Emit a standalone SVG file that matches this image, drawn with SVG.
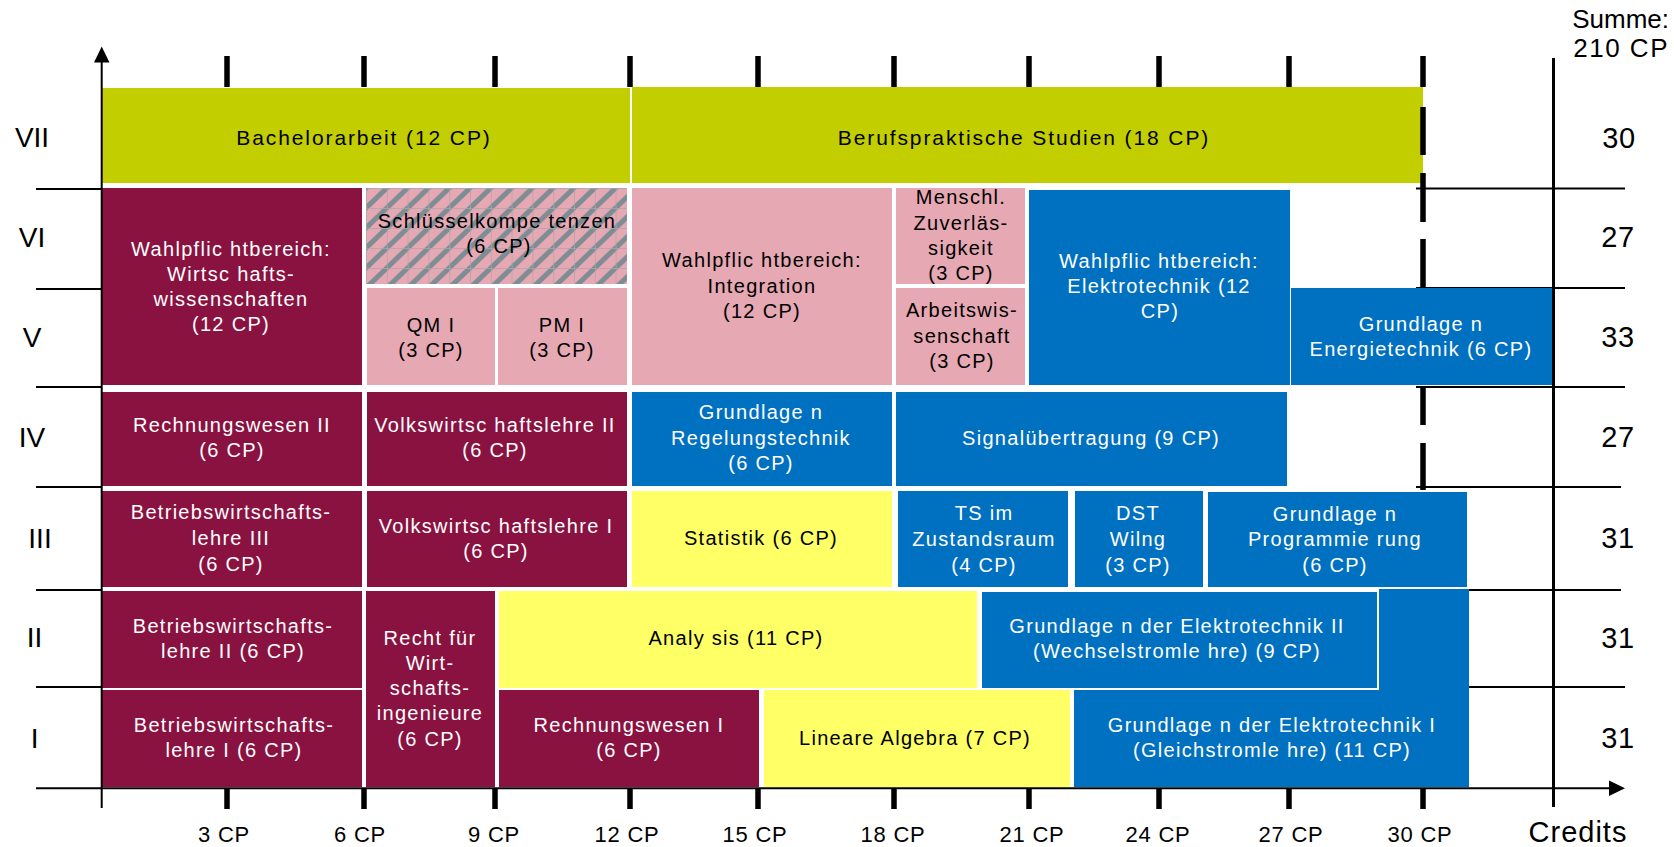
<svg xmlns="http://www.w3.org/2000/svg" width="1674" height="847" viewBox="0 0 1674 847">
<style>
text { font-family: "Liberation Sans", Arial, sans-serif; }
.t { font-size: 20px; letter-spacing: 1.3px; text-anchor: middle; }
.big { font-size: 21px; letter-spacing: 1.9px; }
.w { fill: #ffffff; }
.k { fill: #000000; }
.olive { fill: #C3CE00; }
.maroon { fill: #8A1240; }
.pink { fill: #E6A8B3; }
.blue { fill: #0070C0; }
.yellow { fill: #FFFF66; }
.num { font-size: 28px; text-anchor: middle; fill: #000; }
.sum { font-size: 29px; text-anchor: middle; fill: #000; letter-spacing: 0.5px; }
.cp { font-size: 22px; text-anchor: middle; fill: #000; letter-spacing: 0.8px; }
.line { stroke: #000; stroke-width: 2; fill: none; }
.tick { stroke: #000; stroke-width: 5.5; fill: none; }
</style>
<defs>
<pattern id="hatch" patternUnits="userSpaceOnUse" x="366" y="188" width="20.8" height="20">
<rect width="20.8" height="20" fill="#E6A8B3"/>
<path d="M0,20 L20.8,0 M-3,3 L3,-3 M17.8,23 L23.8,17" stroke="#7E8C94" stroke-width="5"/>
<path d="M0,0 V20 M0,0 H20.8" stroke="#A8A8AB" stroke-width="1.4"/>
</pattern>
</defs>
<rect width="1674" height="847" fill="#ffffff"/>

<g id="gridlines">
<path class="line" d="M36,189 H102 M36,289 H102 M36,387 H102 M36,487 H102 M36,590 H102 M36,687 H102"/>
<path class="line" d="M1416,188.5 H1625 M1416,288 H1625 M1416,387 H1625 M1416,487 H1621 M1469,590 H1621 M1469,687 H1625"/>
</g>

<g id="node-bachelor">
<rect class="olive" x="102" y="88" width="528" height="95"/>
<text class="t big k" x="364" y="145">Bachelorarbeit (12 CP)</text>
</g>
<g id="node-beruf">
<rect class="olive" x="632" y="87" width="791" height="96"/>
<text class="t big k" x="1024" y="145">Berufspraktische Studien (18 CP)</text>
</g>

<g id="node-wpf-wiwi">
<rect class="maroon" x="102" y="188" width="260" height="197"/>
<text class="t w" x="231" y="256">Wahlpflic htbereich:</text>
<text class="t w" x="231" y="281">Wirtsc hafts-</text>
<text class="t w" x="231" y="306">wissenschaften</text>
<text class="t w" x="231" y="331">(12 CP)</text>
</g>
<g id="node-schluessel">
<rect x="366" y="188" width="261" height="96" fill="url(#hatch)"/>
<text class="t k" x="497" y="228">Schlüsselkompe tenzen</text>
<text class="t k" x="499" y="253">(6 CP)</text>
</g>
<g id="node-qm">
<rect class="pink" x="367" y="288" width="128" height="97"/>
<text class="t k" x="431" y="332">QM I</text>
<text class="t k" x="431" y="357">(3 CP)</text>
</g>
<g id="node-pm">
<rect class="pink" x="498" y="288" width="129" height="97"/>
<text class="t k" x="562" y="332">PM I</text>
<text class="t k" x="562" y="357">(3 CP)</text>
</g>
<g id="node-wpf-int">
<rect class="pink" x="632" y="188" width="260" height="197"/>
<text class="t k" x="762" y="267">Wahlpflic htbereich:</text>
<text class="t k" x="762" y="293">Integration</text>
<text class="t k" x="762" y="318">(12 CP)</text>
</g>
<g id="node-menschl">
<rect class="pink" x="896" y="188" width="129" height="96"/>
<text class="t k" x="961" y="204">Menschl.</text>
<text class="t k" x="961" y="230">Zuverläs-</text>
<text class="t k" x="961" y="255">sigkeit</text>
<text class="t k" x="961" y="280">(3 CP)</text>
</g>
<g id="node-arbeit">
<rect class="pink" x="896" y="288" width="129" height="97"/>
<text class="t k" x="962" y="317">Arbeitswis-</text>
<text class="t k" x="962" y="343">senschaft</text>
<text class="t k" x="962" y="368">(3 CP)</text>
</g>
<g id="node-wpf-et">
<rect class="blue" x="1029" y="190" width="261" height="195"/>
<text class="t w" x="1159" y="268">Wahlpflic htbereich:</text>
<text class="t w" x="1159" y="293">Elektrotechnik (12</text>
<text class="t w" x="1160" y="318">CP)</text>
</g>
<g id="node-energie">
<rect class="blue" x="1291" y="288" width="261" height="97"/>
<text class="t w" x="1421" y="331">Grundlage n</text>
<text class="t w" x="1421" y="356">Energietechnik (6 CP)</text>
</g>

<g id="node-rw2">
<rect class="maroon" x="102" y="392" width="260" height="94"/>
<text class="t w" x="232" y="432">Rechnungswesen II</text>
<text class="t w" x="232" y="457">(6 CP)</text>
</g>
<g id="node-vwl2">
<rect class="maroon" x="367" y="392" width="260" height="94"/>
<text class="t w" x="495" y="432">Volkswirtsc haftslehre II</text>
<text class="t w" x="495" y="457">(6 CP)</text>
</g>
<g id="node-regel">
<rect class="blue" x="632" y="392" width="260" height="94"/>
<text class="t w" x="761" y="419">Grundlage n</text>
<text class="t w" x="761" y="445">Regelungstechnik</text>
<text class="t w" x="761" y="470">(6 CP)</text>
</g>
<g id="node-signal">
<rect class="blue" x="896" y="392" width="391" height="94"/>
<text class="t w" x="1091" y="445">Signalübertragung (9 CP)</text>
</g>

<g id="node-bwl3">
<rect class="maroon" x="102" y="491" width="260" height="96"/>
<text class="t w" x="231" y="519">Betriebswirtschafts-</text>
<text class="t w" x="231" y="545">lehre III</text>
<text class="t w" x="231" y="571">(6 CP)</text>
</g>
<g id="node-vwl1">
<rect class="maroon" x="367" y="491" width="260" height="96"/>
<text class="t w" x="496" y="533">Volkswirtsc haftslehre I</text>
<text class="t w" x="496" y="558">(6 CP)</text>
</g>
<g id="node-statistik">
<rect class="yellow" x="632" y="491" width="260" height="96"/>
<text class="t k" x="761" y="545">Statistik (6 CP)</text>
</g>
<g id="node-ts">
<rect class="blue" x="898" y="491" width="170" height="96"/>
<text class="t w" x="984" y="520">TS im</text>
<text class="t w" x="984" y="546">Zustandsraum</text>
<text class="t w" x="984" y="572">(4 CP)</text>
</g>
<g id="node-dst">
<rect class="blue" x="1075" y="491" width="128" height="96"/>
<text class="t w" x="1138" y="520">DST</text>
<text class="t w" x="1138" y="546">Wilng</text>
<text class="t w" x="1138" y="572">(3 CP)</text>
</g>
<g id="node-prog">
<rect class="blue" x="1208" y="492" width="259" height="95"/>
<text class="t w" x="1335" y="521">Grundlage n</text>
<text class="t w" x="1335" y="546">Programmie rung</text>
<text class="t w" x="1335" y="572">(6 CP)</text>
</g>

<g id="node-bwl2">
<rect class="maroon" x="102" y="591" width="260" height="97"/>
<text class="t w" x="233" y="633">Betriebswirtschafts-</text>
<text class="t w" x="233" y="658">lehre II (6 CP)</text>
</g>
<g id="node-recht">
<rect class="maroon" x="366" y="591" width="129" height="196"/>
<text class="t w" x="430" y="645">Recht für</text>
<text class="t w" x="430" y="670">Wirt-</text>
<text class="t w" x="430" y="695">schafts-</text>
<text class="t w" x="430" y="720">ingenieure</text>
<text class="t w" x="430" y="746">(6 CP)</text>
</g>
<g id="node-analysis">
<rect class="yellow" x="499" y="591" width="478" height="97"/>
<text class="t k" x="736" y="645">Analy sis (11 CP)</text>
</g>
<g id="node-get2">
<rect class="blue" x="982" y="592" width="395" height="96"/>
<text class="t w" x="1177" y="633">Grundlage n der Elektrotechnik II</text>
<text class="t w" x="1177" y="658">(Wechselstromle hre) (9 CP)</text>
</g>

<g id="node-bwl1">
<rect class="maroon" x="102" y="690" width="260" height="97"/>
<text class="t w" x="234" y="732">Betriebswirtschafts-</text>
<text class="t w" x="234" y="757">lehre I (6 CP)</text>
</g>
<g id="node-rw1">
<rect class="maroon" x="499" y="690" width="260" height="97"/>
<text class="t w" x="629" y="732">Rechnungswesen I</text>
<text class="t w" x="629" y="757">(6 CP)</text>
</g>
<g id="node-linalg">
<rect class="yellow" x="764" y="690" width="306" height="97"/>
<text class="t k" x="915" y="745">Lineare Algebra (7 CP)</text>
</g>
<g id="node-get1">
<path class="blue" d="M1074,690 H1379 V589 H1469 V787 H1074 Z"/>
<text class="t w" x="1272" y="732">Grundlage n der Elektrotechnik I</text>
<text class="t w" x="1272" y="757">(Gleichstromle hre) (11 CP)</text>
</g>

<g id="connectors">
<path class="line" d="M101.7,808 V61"/>
<polygon points="101.7,46.5 94,62.5 109.5,62.5" fill="#000"/>
<path class="line" d="M36,788.3 H1610"/>
<polygon points="1625,788.3 1609,780.5 1609,796" fill="#000"/>
<path stroke="#000" stroke-width="3" d="M1553.5,58 V807"/>
<path class="tick" d="M227,56 V87 M364,56 V87 M495,56 V87 M630,56 V87 M758,56 V87 M894,56 V87 M1029,56 V87 M1159,56 V87 M1289,56 V87 M1423,56 V87"/>
<path class="tick" d="M1423,107 V155 M1423,173 V222 M1423,239 V287 M1423,387 V425 M1423,443 V490"/>
<path class="tick" d="M227,789 V809 M364,789 V809 M495,789 V809 M630,789 V809 M758,789 V809 M894,789 V809 M1029,789 V809 M1159,789 V809 M1289,789 V809 M1423,789 V809"/>
</g>

<g id="labels">
<text class="num" x="32" y="147">VII</text>
<text class="num" x="32" y="247">VI</text>
<text class="num" x="32" y="347">V</text>
<text class="num" x="32" y="447">IV</text>
<text class="num" x="40" y="548">III</text>
<text class="num" x="34.5" y="647">II</text>
<text class="num" x="34.7" y="748">I</text>
<text class="sum" x="1619" y="148">30</text>
<text class="sum" x="1618" y="247">27</text>
<text class="sum" x="1618" y="347">33</text>
<text class="sum" x="1618" y="447">27</text>
<text class="sum" x="1618" y="548">31</text>
<text class="sum" x="1618" y="648">31</text>
<text class="sum" x="1618" y="748">31</text>
<text x="1669" y="28" font-size="26" text-anchor="end" fill="#000">Summe:</text>
<text x="1669" y="57" font-size="26" text-anchor="end" fill="#000" letter-spacing="1.5">210 CP</text>
<text class="cp" x="224" y="842">3 CP</text>
<text class="cp" x="360" y="842">6 CP</text>
<text class="cp" x="494" y="842">9 CP</text>
<text class="cp" x="627" y="842">12 CP</text>
<text class="cp" x="755" y="842">15 CP</text>
<text class="cp" x="893" y="842">18 CP</text>
<text class="cp" x="1032" y="842">21 CP</text>
<text class="cp" x="1158" y="842">24 CP</text>
<text class="cp" x="1291" y="842">27 CP</text>
<text class="cp" x="1420" y="842">30 CP</text>
<text x="1578" y="842" font-size="29" text-anchor="middle" fill="#000" letter-spacing="1">Credits</text>
</g>
</svg>
